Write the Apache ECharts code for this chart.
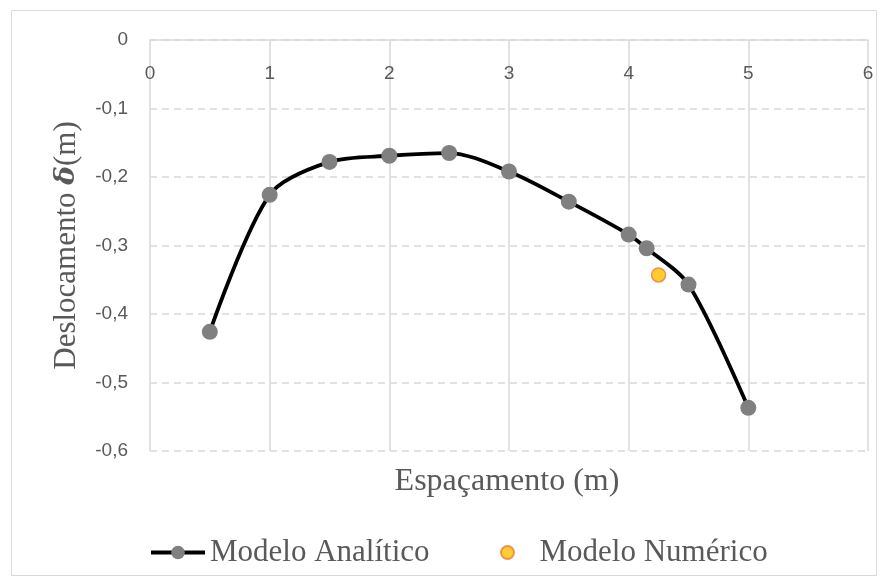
<!DOCTYPE html>
<html>
<head>
<meta charset="utf-8">
<script src="https://cdn.jsdelivr.net/npm/echarts@6/dist/echarts.min.js"></script>
<style>html,body{margin:0;padding:0;background:#fff}#c{width:888px;height:586px}</style>
</head>
<body>
<div id="c"></div>
<script>
var analyticX = [0.5, 1, 1.5, 2, 2.5, 3, 3.5, 4, 4.15, 4.5, 5];
var analyticY = [-0.426, -0.226, -0.178, -0.169, -0.165, -0.192, -0.236, -0.284, -0.304, -0.357, -0.537];
var numericX = [4.25];
var numericY = [-0.343];
var xTicks = [0, 1, 2, 3, 4, 5, 6];
var yTicks = [0, -0.1, -0.2, -0.3, -0.4, -0.5, -0.6];

var analytic = analyticX.map(function (x, i) { return [x, analyticY[i]]; });
var numeric = numericX.map(function (x, i) { return [x, numericY[i]]; });

var chart = echarts.init(document.getElementById('c'), null, {renderer: 'canvas'});
var labelFont = 'Liberation Sans';
var serif = 'Liberation Serif';
chart.setOption({
  animation: false,
  backgroundColor: '#fff',
  graphic: [{
    type: 'rect', shape: {x: 11.5, y: 10.5, width: 865, height: 565},
    style: {fill: 'none', stroke: '#d9d9d9', lineWidth: 1}, silent: true, z: -1
  }],
  title: {
    text: 'Espaçamento (m)', left: 507, top: 466, textAlign: 'center', padding: 0,
    textStyle: {fontFamily: serif, fontSize: 32, fontWeight: 'normal', color: '#595959'}
  },
  grid: {left: 150, right: 20, top: 40, bottom: 135, containLabel: false},
  xAxis: {
    type: 'value', position: 'top', min: xTicks[0], max: xTicks[xTicks.length - 1], interval: 1,
    axisLine: {show: true, onZero: false, lineStyle: {color: '#d9d9d9', width: 1.5}},
    axisTick: {show: false},
    axisLabel: {inside: true, margin: 24, color: '#595959', fontSize: 19, fontFamily: labelFont},
    splitLine: {show: true, lineStyle: {color: '#d9d9d9', width: 1.5, type: 'solid'}}
  },
  yAxis: {
    type: 'value', min: yTicks[yTicks.length - 1], max: yTicks[0], interval: 0.1,
    name: 'Deslocamento {d|δ}(m)', nameLocation: 'middle', nameGap: 68, nameRotate: 90,
    nameTextStyle: {fontFamily: serif, fontSize: 31, color: '#595959',
      rich: {d: {fontFamily: 'DejaVu Serif', fontWeight: 'bold', fontStyle: 'italic', fontSize: 28, color: '#595959'}}},
    axisLine: {show: false},
    axisTick: {show: false},
    axisLabel: {margin: 22, color: '#595959', fontSize: 19, fontFamily: labelFont,
      formatter: function (v) { return (Math.round(v * 10) / 10).toString().replace('.', ','); }},
    splitLine: {show: true, lineStyle: {color: '#d9d9d9', width: 1.5, type: [7, 5]}}
  },
  legend: [{
    data: [{name: 'Modelo Analítico', lineStyle: {width: 4, color: '#000'}}],
    left: 149, top: 537, padding: 0, itemWidth: 54, itemHeight: 17, itemGap: 0,
    textStyle: {fontFamily: serif, fontSize: 31, color: '#595959'}
  }, {
    data: ['Modelo Numérico'], left: 500, top: 537, padding: 0, itemWidth: 54, itemHeight: 13, itemGap: 0,
    textStyle: {fontFamily: serif, fontSize: 31, color: '#595959'}
  }],
  series: [{
    name: 'Modelo Analítico', type: 'line', data: analytic, smooth: 0.3,
    symbol: 'circle', symbolSize: 16,
    lineStyle: {color: '#000', width: 3.8},
    itemStyle: {color: '#808080'}, z: 2
  }, {
    name: 'Modelo Numérico', type: 'scatter', data: numeric,
    symbol: 'circle', symbolSize: 14,
    itemStyle: {color: '#FFC000', borderColor: '#ED7D31', borderWidth: 1.5}, z: 3
  }]
});
</script>
</body>
</html>
